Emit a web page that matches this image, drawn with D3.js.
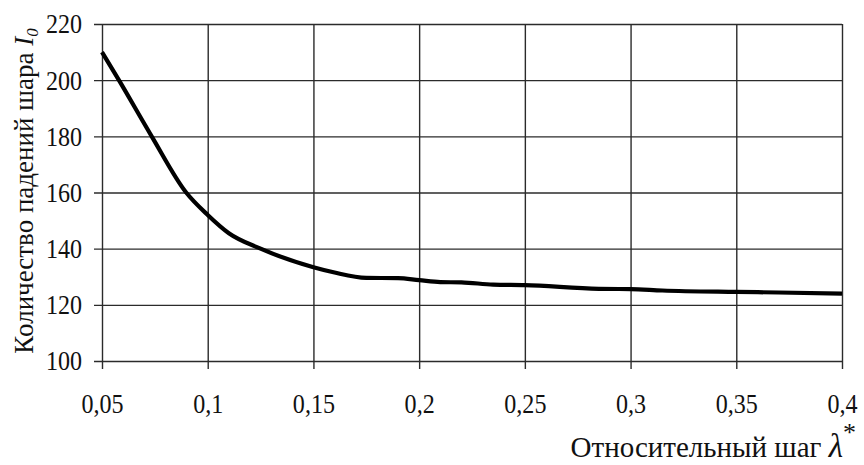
<!DOCTYPE html>
<html>
<head>
<meta charset="utf-8">
<script src="https://cdn.jsdelivr.net/npm/d3@7"></script>
<style>
  body { margin: 0; background: #fff; }
  svg { display: block; }
</style>
</head>
<body>
<svg id="chart"></svg>
<script>
// значения
const lambdaVals = [0.05, 0.058, 0.0735, 0.0898, 0.1, 0.11, 0.125, 0.15, 0.16, 0.175, 0.19, 0.2, 0.21, 0.22, 0.235, 0.25, 0.285, 0.3, 0.315, 0.35, 0.37, 0.4];
const dropCounts = [210, 200, 180, 160, 152, 145.5, 140, 133.4, 131.5, 129.6, 129.5, 128.8, 128.1, 128, 127.2, 127, 125.7, 125.6, 125.1, 124.6, 124.4, 124];
const xTicks = [0.05, 0.1, 0.15, 0.2, 0.25, 0.3, 0.35, 0.4];
const yTicks = [100, 120, 140, 160, 180, 200, 220];

const w = 864, h = 465;
const margin = { top: 24, right: 22, bottom: 104, left: 102 };
const iw = w - margin.left - margin.right;
const ih = h - margin.top - margin.bottom;
const serif = '"Liberation Serif", "Times New Roman", Times, "DejaVu Serif", serif';
const squeeze = 0.86; // цифры в оригинале узкие

const svg = d3.select('#chart').attr('width', w).attr('height', h);
const g = svg.append('g').attr('transform', `translate(${margin.left},${margin.top})`);

const xScale = d3.scaleLinear().domain([0.05, 0.4]).range([0, iw]);
const yScale = d3.scaleLinear().domain([100, 220]).range([ih, 0]);

const fmt = d => String(d).replace('.', ',');

// сетка + засечки через оси
const xAxis = d3.axisBottom(xScale).tickValues(xTicks).tickSize(ih + 8).tickPadding(24).tickFormat(fmt);
const yAxis = d3.axisLeft(yScale).tickValues(yTicks).tickSize(iw + 8).tickPadding(12);

const gx = g.append('g').call(xAxis);
const gy = g.append('g').attr('transform', `translate(${iw},0)`).call(yAxis);

[gx, gy].forEach(a => {
  a.attr('font-family', serif).attr('font-size', 28);
  a.select('.domain').remove();
  a.selectAll('line').attr('stroke', '#2b2b2b').attr('stroke-width', 1.4);
  a.selectAll('text').attr('fill', '#111');
});

gx.selectAll('.tick text').attr('transform', `scale(${squeeze},1)`);
gy.selectAll('.tick text')
  .attr('x', 0)
  .attr('transform', `translate(${-(iw + 20)},0) scale(${squeeze},1)`);

const line = d3.line()
  .x((d, i) => xScale(lambdaVals[i]))
  .y(d => yScale(d))
  .curve(d3.curveMonotoneX);

g.append('path')
  .datum(dropCounts)
  .attr('d', line)
  .attr('fill', 'none')
  .attr('stroke', '#000')
  .attr('stroke-width', 4.2)
  .attr('stroke-linejoin', 'round');

// подпись оси Y
const yt = svg.append('text')
  .attr('transform', `translate(33,191) rotate(-90)`)
  .attr('text-anchor', 'middle')
  .attr('font-family', serif)
  .attr('font-size', 27)
  .attr('fill', '#111');
yt.append('tspan').text('Количество падений шара ');
yt.append('tspan').attr('font-style', 'italic').text('I');
yt.append('tspan').attr('font-style', 'italic').attr('font-size', 17).attr('dy', 5).text('0');

// подпись оси X
const xt = svg.append('text')
  .attr('x', 856)
  .attr('y', 457)
  .attr('text-anchor', 'end')
  .attr('font-family', serif)
  .attr('font-size', 29)
  .attr('fill', '#111');
xt.append('tspan').text('Относительный шаг ');
xt.append('tspan').attr('font-style', 'italic').attr('font-size', 33).text('λ');
xt.append('tspan').attr('font-size', 26).attr('dy', -16).text('*');
</script>
</body>
</html>
